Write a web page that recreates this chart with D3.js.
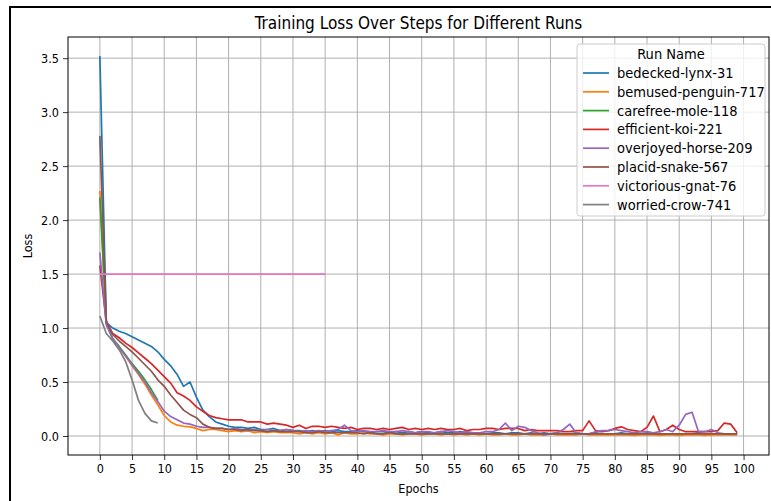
<!DOCTYPE html>
<html>
<head>
<meta charset="utf-8">
<script src="https://cdn.jsdelivr.net/npm/d3@7"></script>
<style>
  body { margin: 0; background: #fff; }
  svg text { font-family: "DejaVu Sans Condensed", "DejaVu Sans", sans-serif; fill: #000; }
</style>
</head>
<body>
<svg id="chart" width="771" height="501"></svg>
<script>
// run names and colours (matplotlib tab10)
const runNames = ["bedecked-lynx-31", "bemused-penguin-717", "carefree-mole-118", "efficient-koi-221",
  "overjoyed-horse-209", "placid-snake-567", "victorious-gnat-76", "worried-crow-741"];
const runColors = ["#1f77b4", "#ff7f0e", "#2ca02c", "#d62728", "#9467bd", "#8c564b", "#e377c2", "#7f7f7f"];

// loss per epoch (epoch = index)
const lynx = [
  3.52, 1.05, 1.00, 0.97, 0.95, 0.92, 0.89, 0.86, 0.83, 0.78,
  0.71, 0.65, 0.57, 0.46, 0.50, 0.36, 0.24, 0.18, 0.13, 0.11,
  0.09, 0.08, 0.08, 0.07, 0.08, 0.06, 0.06, 0.07, 0.05, 0.06,
  0.05, 0.05, 0.04, 0.05, 0.04, 0.05, 0.04, 0.05, 0.04, 0.04,
  0.05, 0.04, 0.03, 0.04, 0.04, 0.03, 0.04, 0.03, 0.04, 0.03,
  0.04, 0.03, 0.03, 0.04, 0.03, 0.03, 0.04, 0.03, 0.03, 0.03,
  0.02, 0.03, 0.03, 0.02, 0.03, 0.03, 0.02, 0.03, 0.02, 0.03,
  0.02, 0.03, 0.02, 0.02, 0.03, 0.02, 0.02, 0.03, 0.02, 0.02,
  0.02, 0.03, 0.02, 0.02, 0.02, 0.03, 0.02, 0.02, 0.02, 0.02,
  0.02, 0.02, 0.02, 0.03, 0.02, 0.02, 0.02, 0.02, 0.02, 0.02
];
const penguin = [
  2.27, 1.04, 0.90, 0.82, 0.74, 0.65, 0.57, 0.48, 0.38, 0.29,
  0.19, 0.13, 0.10, 0.09, 0.085, 0.07, 0.05, 0.06, 0.06, 0.05,
  0.04, 0.05, 0.04, 0.05, 0.03, 0.04, 0.03, 0.04, 0.03, 0.03,
  0.03, 0.02, 0.03, 0.02, 0.03, 0.02, 0.03, 0.01, 0.03, 0.02,
  0.02, 0.03, 0.02, 0.02, 0.01, 0.02, 0.02, 0.01, 0.02, 0.02,
  0.01, 0.02, 0.02, 0.01, 0.02, 0.01, 0.02, 0.01, 0.02, 0.01,
  0.02, 0.01, 0.01, 0.02, 0.01, 0.01, 0.02, 0.01, 0.01, 0.01,
  0.02, 0.01, 0.01, 0.01, 0.01, 0.02, 0.01, 0.01, 0.01, 0.01,
  0.01, 0.01, 0.01, 0.005, 0.01, 0.01, 0.01, 0.005, 0.01, 0.01,
  0.005, 0.01, 0.01, 0.01, 0.005, 0.01, 0.01, 0.01, 0.01, 0.01
];
const mole = [2.21, 1.05, 0.90, 0.83, 0.75, 0.67, 0.60, 0.52, 0.43, 0.33];
const koi = [
  1.58, 1.05, 0.95, 0.91, 0.86, 0.82, 0.77, 0.72, 0.67, 0.61,
  0.55, 0.49, 0.40, 0.37, 0.33, 0.27, 0.23, 0.19, 0.17, 0.16,
  0.15, 0.15, 0.15, 0.13, 0.13, 0.13, 0.11, 0.12, 0.11, 0.10,
  0.08, 0.10, 0.07, 0.09, 0.09, 0.08, 0.09, 0.08, 0.07, 0.08,
  0.06, 0.07, 0.07, 0.06, 0.07, 0.06, 0.07, 0.08, 0.06, 0.07,
  0.06, 0.07, 0.06, 0.07, 0.06, 0.06, 0.07, 0.05, 0.06, 0.06,
  0.07, 0.07, 0.06, 0.07, 0.07, 0.07, 0.05, 0.06, 0.05, 0.05,
  0.05, 0.05, 0.04, 0.04, 0.05, 0.05, 0.14, 0.05, 0.04, 0.05,
  0.07, 0.085, 0.06, 0.05, 0.04, 0.08, 0.185, 0.04, 0.06, 0.10,
  0.06, 0.04, 0.04, 0.04, 0.04, 0.04, 0.05, 0.12, 0.11, 0.03
];
const horse = [
  1.70, 1.03, 0.90, 0.82, 0.74, 0.66, 0.58, 0.50, 0.40, 0.32,
  0.23, 0.18, 0.15, 0.12, 0.11, 0.09, 0.08, 0.08, 0.07, 0.07,
  0.06, 0.07, 0.06, 0.05, 0.06, 0.05, 0.06, 0.05, 0.05, 0.06,
  0.05, 0.04, 0.05, 0.04, 0.05, 0.04, 0.05, 0.06, 0.10, 0.05,
  0.04, 0.05, 0.04, 0.04, 0.05, 0.04, 0.04, 0.05, 0.04, 0.03,
  0.04, 0.04, 0.03, 0.04, 0.05, 0.04, 0.03, 0.04, 0.03, 0.03,
  0.04, 0.04, 0.06, 0.12, 0.05, 0.09, 0.08, 0.05, 0.03, 0.01,
  0.02, 0.03, 0.06, 0.11, 0.03, 0.02, 0.02, 0.04, 0.05, 0.05,
  0.06, 0.05, 0.04, 0.03, 0.04, 0.04, 0.03, 0.04, 0.06, 0.04,
  0.10, 0.20, 0.22, 0.04, 0.04, 0.06, 0.03, 0.02, 0.02, 0.02
];
const snake = [
  2.78, 1.07, 0.94, 0.88, 0.83, 0.78, 0.72, 0.66, 0.60, 0.52,
  0.46, 0.38, 0.31, 0.24, 0.20, 0.17, 0.11, 0.08, 0.07, 0.07,
  0.06, 0.06, 0.05, 0.06, 0.05, 0.05, 0.04, 0.05, 0.04, 0.04,
  0.04, 0.04, 0.03, 0.03, 0.04, 0.03, 0.03, 0.03, 0.03, 0.03,
  0.03, 0.02, 0.03, 0.02, 0.02, 0.03, 0.02, 0.02, 0.02, 0.02,
  0.02, 0.02, 0.02, 0.02, 0.02, 0.02, 0.02, 0.02, 0.02, 0.02,
  0.02, 0.02, 0.02, 0.02, 0.02, 0.02, 0.02, 0.02, 0.02, 0.02,
  0.02, 0.02, 0.02, 0.02, 0.02, 0.02, 0.02, 0.02, 0.02, 0.02,
  0.02, 0.02, 0.02, 0.02, 0.02, 0.02, 0.02, 0.02, 0.02, 0.02,
  0.02, 0.02, 0.02, 0.02, 0.02, 0.02, 0.02, 0.02, 0.02, 0.02
];
const gnat = [
  1.5, 1.5, 1.5, 1.5, 1.5, 1.5, 1.5, 1.5, 1.5, 1.5, 1.5, 1.5,
  1.5, 1.5, 1.5, 1.5, 1.5, 1.5, 1.5, 1.5, 1.5, 1.5, 1.5, 1.5,
  1.5, 1.5, 1.5, 1.5, 1.5, 1.5, 1.5, 1.5, 1.5, 1.5, 1.5, 1.5
];
const crow = [1.11, 0.95, 0.88, 0.80, 0.69, 0.52, 0.33, 0.21, 0.14, 0.12];

const runValues = [lynx, penguin, mole, koi, horse, snake, gnat, crow];

const xTicks = d3.range(0, 101, 5);
const yTicks = [0, 0.5, 1.0, 1.5, 2.0, 2.5, 3.0, 3.5];

const svg = d3.select("#chart");
const margin = { left: 68, right: 2, top: 37, bottom: 46 };
const width = 771 - margin.left - margin.right;
const height = 501 - margin.top - margin.bottom;

// figure frame (cropped on right/bottom)
svg.append("rect")
  .attr("x", 10).attr("y", 7)
  .attr("width", 900).attr("height", 700)
  .attr("fill", "none").attr("stroke", "#000").attr("stroke-width", 2);

const g = svg.append("g").attr("transform", `translate(${margin.left},${margin.top})`);

const x = d3.scaleLinear().domain([-4.95, 103.95]).range([0, width]);
const y = d3.scaleLinear().domain([-0.176, 3.696]).range([height, 0]);

// grid
g.append("g").selectAll("line").data(xTicks).join("line")
  .attr("x1", d => x(d)).attr("x2", d => x(d))
  .attr("y1", 0).attr("y2", height)
  .attr("stroke", "#b0b0b0").attr("stroke-width", 1);
g.append("g").selectAll("line").data(yTicks).join("line")
  .attr("y1", d => y(d)).attr("y2", d => y(d))
  .attr("x1", 0).attr("x2", width)
  .attr("stroke", "#b0b0b0").attr("stroke-width", 1);

// axes
const xAxis = g.append("g").attr("transform", `translate(0,${height})`)
  .call(d3.axisBottom(x).tickValues(xTicks).tickSize(5).tickPadding(4).tickFormat(d3.format("d")));
const yAxis = g.append("g")
  .call(d3.axisLeft(y).tickValues(yTicks).tickSize(5).tickPadding(4).tickFormat(d3.format(".1f")));
[xAxis, yAxis].forEach(a => {
  a.select(".domain").remove();
  a.selectAll("text").attr("font-size", 12.5).attr("font-family", null);
  a.selectAll("line").attr("stroke", "#000").attr("stroke-width", 0.8);
});

// lines
const line = d3.line().x((d, i) => x(i)).y(d => y(d));
runValues.forEach((vals, k) => {
  g.append("path")
    .datum(vals)
    .attr("fill", "none")
    .attr("stroke", runColors[k])
    .attr("stroke-width", 1.7)
    .attr("stroke-linejoin", "round")
    .attr("d", line);
});

// plot border
g.append("rect").attr("width", width).attr("height", height)
  .attr("fill", "none").attr("stroke", "#000").attr("stroke-width", 1);

// title and labels
svg.append("text").attr("x", margin.left + width / 2).attr("y", 29)
  .attr("text-anchor", "middle").attr("font-size", 17)
  .text("Training Loss Over Steps for Different Runs");
svg.append("text").attr("x", margin.left + width / 2).attr("y", 493)
  .attr("text-anchor", "middle").attr("font-size", 12.5).text("Epochs");
svg.append("text").attr("transform", `translate(32,${margin.top + height / 2}) rotate(-90)`)
  .attr("text-anchor", "middle").attr("font-size", 12.5).text("Loss");

// legend
const lg = svg.append("g").attr("transform", "translate(577,44)");
lg.append("rect").attr("width", 188).attr("height", 172).attr("rx", 3)
  .attr("fill", "#fff").attr("fill-opacity", 0.8).attr("stroke", "#cccccc");
lg.append("text").attr("x", 94).attr("y", 15).attr("text-anchor", "middle")
  .attr("font-size", 14.5).text("Run Name");
runNames.forEach((name, k) => {
  const yy = 29 + k * 18.8;
  lg.append("line").attr("x1", 6).attr("x2", 32).attr("y1", yy).attr("y2", yy)
    .attr("stroke", runColors[k]).attr("stroke-width", 1.7);
  lg.append("text").attr("x", 40).attr("y", yy + 5).attr("font-size", 14.5).text(name);
});
</script>
</body>
</html>
